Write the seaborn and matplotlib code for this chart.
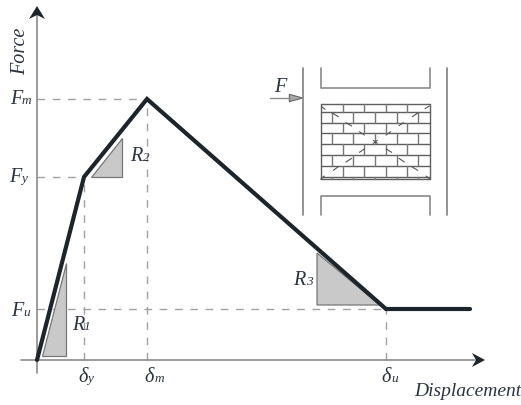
import matplotlib
matplotlib.use("Agg")
import matplotlib.pyplot as plt
import pandas as pd
import seaborn as sns

# force-displacement curve, 1 unit = 1 pixel from the origin
displacement = [0, 47, 110, 349, 433]
force = [0, 183, 261, 51, 51]

guide_x = [47, 110, 349]
guide_y = [183, 261, 51]

# labels: main letter, small letter, left of each, baseline
labels = [
    ("δ", "y", 41, 50, -22),
    ("δ", "m", 107, 118, -22),
    ("δ", "u", 344, 354, -22),
    ("F", "m", -27, -15, 256),
    ("F", "y", -28, -16, 178),
    ("F", "u", -26, -14, 44),
    ("R", "1", 35, 47, 30),
    ("R", "2", 93, 106, 199),
    ("R", "3", 256, 269, 75),
]

# slope triangles
tri_r1_x, tri_r1_y = [5, 29, 29], [4, 4, 97]
tri_r2_x, tri_r2_y = [54, 85, 85], [183, 183, 222]
tri_r3_x, tri_r3_y = [280, 280, 343], [55, 107, 55]

# crack dashes in the wall, given as (x0, y0, x1, y1) on the 3x zoom grid
cracks = [
    (155, 170, 165, 178), (185, 188, 205, 200), (228, 218, 245, 228), (268, 245, 283, 255),
    (478, 168, 465, 176), (445, 188, 427, 200), (400, 218, 387, 227), (362, 245, 348, 255),
    (205, 350, 190, 361), (245, 325, 228, 336), (283, 297, 268, 307), (348, 297, 365, 307),
    (387, 325, 403, 336), (425, 350, 443, 361), (152, 388, 163, 378), (480, 388, 468, 378),
    (310, 271, 322, 280), (322, 271, 310, 280),
]
course_rows = [163, 187, 218, 250, 283, 316, 349, 380, 388]
joints_a = [218, 283, 347, 412]
joints_b = [185, 250, 315, 380, 445]

GREY = "#8a8a8a"
DASH = "#a2a2a2"
DARK = "#1d252c"
TEXT = "#2b3440"

sns.set_theme(style="white")
plt.rcParams["font.family"] = ["Liberation Serif", "DejaVu Serif"]

fig = plt.figure(figsize=(5.21, 4.05), dpi=100)
ax = fig.add_axes([0, 0, 1, 1])


def zx(x):
    # zoom grid to chart units
    return 270 + x / 3 - 37


def zy(y):
    return 360 - (50 + y / 3)


# axes with arrow heads
ax.plot([0, 0], [-13, 345], color=GREY, lw=1.2, zorder=2)
ax.plot([-16, 438], [0, 0], color=GREY, lw=1.2, zorder=2)
ax.fill([0, -8, 0, 8], [354, 341, 345, 341], color=DARK, lw=0, zorder=3)
ax.fill([448, 435, 439, 435], [0, 7, 0, -7], color=DARK, lw=0, zorder=3)

# dashed guides
for x, y in zip(guide_x, guide_y):
    ax.plot([x, x], [0, y], color=DASH, lw=1.0, dashes=(5.5, 5.5), zorder=1)
    ax.plot([0, x], [y, y], color=DASH, lw=1.0, dashes=(5.5, 5.5), zorder=1)

# triangles
for tx, ty in [(tri_r1_x, tri_r1_y), (tri_r2_x, tri_r2_y), (tri_r3_x, tri_r3_y)]:
    ax.fill(tx, ty, facecolor="#c9c9c9", edgecolor="#777777", lw=0.9, zorder=2)

# main curve
df = pd.DataFrame({"displacement": displacement, "force": force})
sns.lineplot(data=df, x="displacement", y="force", sort=False, color=DARK, lw=3.0,
             solid_capstyle="round", solid_joinstyle="miter", ax=ax, zorder=4)
ax.set_xlim(-37, 484)
ax.set_ylim(-45, 360)
ax.axis("off")

# letter labels with small inline suffix
for main, sub, x0, x1, y in labels:
    ax.text(x0, y, main, ha="left", va="baseline", style="italic", fontsize=14.5, color=TEXT)
    ax.text(x1, y, sub, ha="left", va="baseline", style="italic", fontsize=9.5, color=TEXT)

ax.text(-16, 309, "Force", rotation=90, ha="center", va="center", style="italic", fontsize=14.5, color=TEXT)
ax.text(431, -32, "Displacement", ha="center", va="center", style="italic", fontsize=14, color=TEXT)

# wall inset: columns, beams, bricks
for x in [100, 530]:
    ax.plot([zx(x), zx(x)], [zy(55), zy(495)], color=GREY, lw=1.3)
ax.plot([zx(152), zx(152), zx(480), zx(480)], [zy(55), zy(113), zy(113), zy(55)], color=GREY, lw=1.2)
ax.plot([zx(152), zx(152), zx(480), zx(480)], [zy(495), zy(438), zy(438), zy(495)], color=GREY, lw=1.2)

for y in course_rows:
    ax.plot([zx(152), zx(480)], [zy(y), zy(y)], color="#5f5f5f", lw=1.0)
for x in [152, 480]:
    ax.plot([zx(x), zx(x)], [zy(163), zy(388)], color="#5f5f5f", lw=1.0)
for i in range(len(course_rows) - 1):
    joints = joints_a if i % 2 == 0 else joints_b
    for x in joints:
        ax.plot([zx(x), zx(x)], [zy(course_rows[i]), zy(course_rows[i + 1])], color="#777777", lw=1.0)
for x0, y0, x1, y1 in cracks:
    ax.plot([zx(x0), zx(x1)], [zy(y0), zy(y1)], color="#555555", lw=0.8)

# load arrow F
ax.plot([zx(0), zx(60)], [zy(143), zy(143)], color=GREY, lw=1.0)
ax.fill([zx(98), zx(58), zx(58)], [zy(144), zy(133), zy(155)], facecolor="#a8a8a8", edgecolor="#666666", lw=0.8)
ax.text(zx(32), zy(114), "F", ha="center", va="center", style="italic", fontsize=14.5, color=TEXT)

fig.savefig("out.png", dpi=100)
